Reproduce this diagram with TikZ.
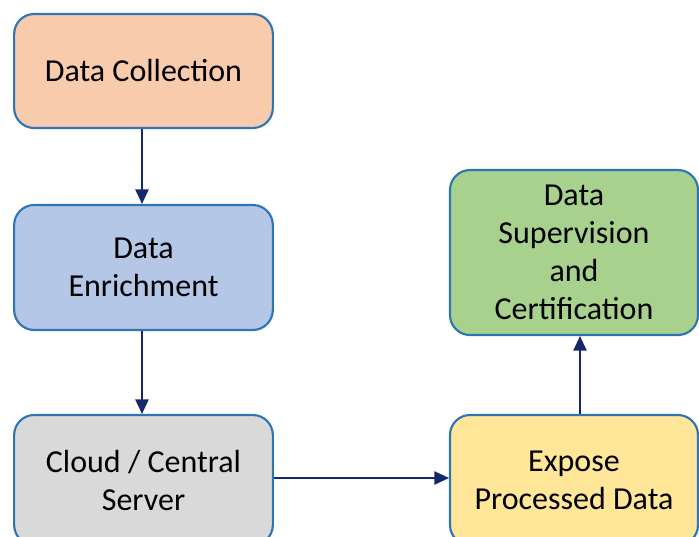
\documentclass[tikz,border=0pt]{standalone}
\usepackage{fontspec}
\setmainfont{Carlito}
\usetikzlibrary{arrows.meta}
\definecolor{edgeblue}{HTML}{2E75B6}
\definecolor{navy}{HTML}{14286B}
\definecolor{fillorange}{HTML}{F8CBAD}
\definecolor{fillblue}{HTML}{B4C7E7}
\definecolor{fillgray}{HTML}{D9D9D9}
\definecolor{fillgreen}{HTML}{A9D18E}
\definecolor{fillyellow}{HTML}{FFE699}
\tikzset{
  stage/.style={draw=edgeblue, line width=1.6pt, rounded corners=15pt,
    align=center, inner sep=0pt,
    font=\fontsize{24}{28.5}\selectfont},
  flow/.style={draw=navy, line width=1.3pt,
    -{Triangle[width=10pt,length=11pt]}}
}
\begin{document}
\begin{tikzpicture}[x=0.75pt, y=-0.75pt]
  \useasboundingbox (0,0) rectangle (699,536);
  \clip (0,0) rectangle (699,536);
  % process stages
  \node[stage, fill=fillorange, minimum width=194pt, minimum height=85.5pt]
    (collect) at (143.5,71) {Data Collection};
  \node[stage, fill=fillblue, minimum width=194pt, minimum height=93.75pt]
    (enrich) at (143.5,267.5) {Data\\Enrichment};
  \node[stage, fill=fillgray, minimum width=194pt, minimum height=97.5pt]
    (cloud) at (143.5,480) {Cloud / Central\\Server};
  \node[stage, fill=fillyellow, minimum width=186pt, minimum height=97.5pt]
    (expose) at (574,480) {Expose\\Processed Data};
  \node[stage, fill=fillgreen, minimum width=186pt, minimum height=123.75pt]
    (supervise) at (574,252.5) {Data\\Supervision\\and\\Certification};
  % connectors
  \draw[flow] (collect.south -| 142,0) -- (enrich.north -| 142,0);
  \draw[flow] (enrich.south -| 142,0) -- (cloud.north -| 142,0);
  \draw[flow] (cloud.east |- 0,478) -- (expose.west |- 0,478);
  \draw[flow] (expose.north -| 580,0) -- (supervise.south -| 580,0);
\end{tikzpicture}
\end{document}
